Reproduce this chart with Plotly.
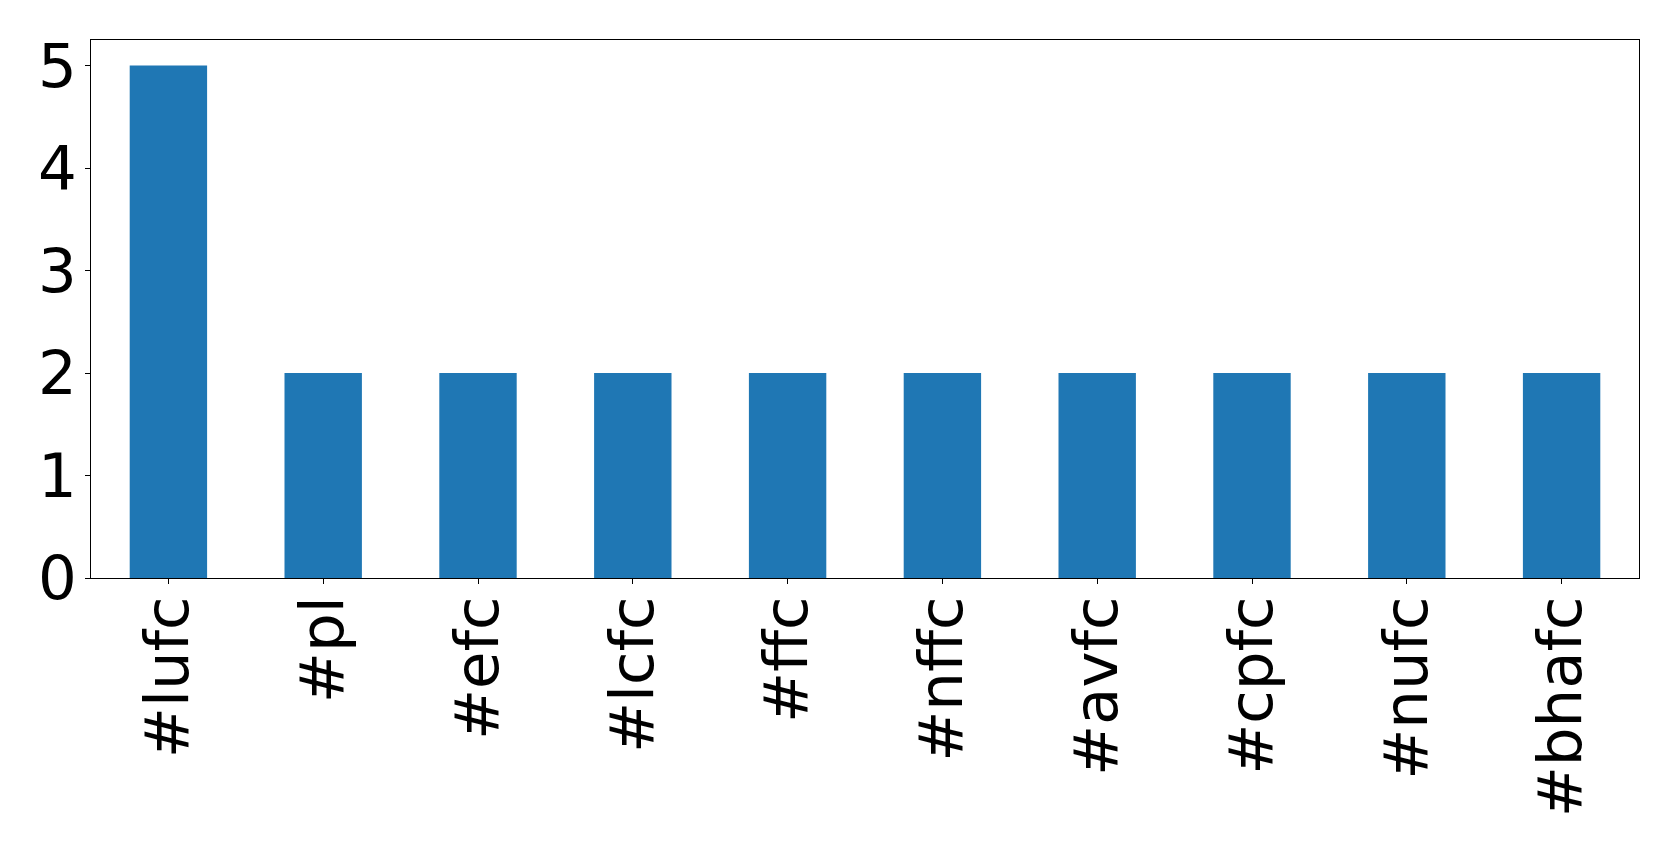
import plotly.graph_objects as go

categories = ["#lufc", "#pl", "#efc", "#lcfc", "#ffc", "#nffc", "#avfc", "#cpfc", "#nufc", "#bhafc"]
counts = [5, 2, 2, 2, 2, 2, 2, 2, 2, 2]
y_ticks = [0, 1, 2, 3, 4, 5]

fig = go.Figure(go.Bar(x=categories, y=counts, width=0.5, marker=dict(color="#1f77b4", line=dict(width=0))))

font = dict(family="DejaVu Sans", size=61, color="black")
fig.update_layout(
    width=1679, height=854,
    margin=dict(l=83, r=48, t=32, b=284, pad=0),
    paper_bgcolor="white", plot_bgcolor="white",
    showlegend=False,
    font=font,
)
fig.update_xaxes(
    type="category", range=[-0.5, 9.5], tickangle=-90, tickfont=font,
    showline=True, linecolor="black", linewidth=1, mirror=True,
    ticks="outside", ticklen=5, tickcolor="black", showgrid=False, zeroline=False,
    ticklabelstandoff=-12,
)
fig.update_yaxes(
    range=[0, 5.25], tickvals=y_ticks, tickfont=font,
    showline=True, linecolor="black", linewidth=1, mirror=True,
    ticks="outside", ticklen=5, tickcolor="black", showgrid=False, zeroline=False,
    ticklabelstandoff=-4,
)
fig.write_html("out.html")
